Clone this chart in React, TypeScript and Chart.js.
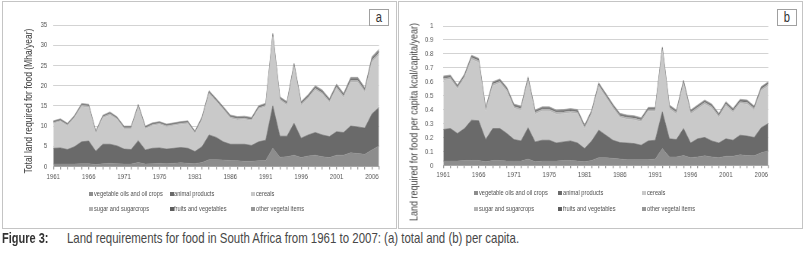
import React, { useEffect, useRef } from "react";
import { Chart, registerables } from "chart.js";

Chart.register(...registerables);

const SANS = '"Liberation Sans", Arial, sans-serif';
// horizontal squeeze used to imitate the condensed typeface of the figure
const SQUEEZE = 0.76;

const YEARS = [
  1961, 1962, 1963, 1964, 1965, 1966, 1967, 1968, 1969, 1970,
  1971, 1972, 1973, 1974, 1975, 1976, 1977, 1978, 1979, 1980,
  1981, 1982, 1983, 1984, 1985, 1986, 1987, 1988, 1989, 1990,
  1991, 1992, 1993, 1994, 1995, 1996, 1997, 1998, 1999, 2000,
  2001, 2002, 2003, 2004, 2005, 2006, 2007,
];
const X_TICK_YEARS = [1961, 1966, 1971, 1976, 1981, 1986, 1991, 1996, 2001, 2006];

const SERIES_NAMES = [
  "vegetable oils and oil crops",
  "animal products",
  "cereals",
  "sugar and sugarcrops",
  "fruits and vegetables",
  "other vegetal items",
];
const SERIES_COLORS = ["#8d8d8d", "#6a6a6a", "#c9c9c9", "#b3b3b3", "#5e5e5e", "#979797"];

// Panel a: total land required (Mha/year)
const totalVegOils = [
  0.6, 0.6, 0.6, 0.6, 0.7, 0.7, 0.5, 0.7, 0.8, 0.7,
  0.6, 0.6, 1.0, 0.6, 0.7, 0.8, 0.7, 0.8, 0.9, 0.8,
  0.7, 1.0, 1.7, 1.7, 1.6, 1.5, 1.4, 1.3, 1.3, 1.4,
  1.5, 4.5, 2.3, 2.4, 2.8, 2.2, 2.6, 2.8, 2.4, 2.2,
  2.8, 2.8, 3.4, 3.2, 3.0, 4.1, 5.1,
];
const totalAnimal = [
  3.9, 4.0, 3.6, 4.3, 5.4, 5.6, 3.3, 4.8, 4.7, 4.4,
  3.7, 3.6, 5.4, 3.5, 3.8, 3.8, 3.6, 3.7, 3.8, 3.7,
  3.0, 3.9, 6.1, 5.5, 4.5, 4.0, 4.1, 4.2, 3.9, 4.7,
  5.0, 10.5, 5.2, 5.1, 7.9, 4.8, 5.2, 5.6, 5.4, 5.2,
  5.8, 5.6, 6.6, 6.6, 6.5, 8.9, 9.5,
];
const totalCereals = [
  6.1, 6.5, 5.8, 7.1, 8.7, 8.3, 4.3, 6.5, 7.2, 6.5,
  5.0, 5.1, 8.2, 5.2, 5.6, 5.8, 5.5, 5.6, 5.7, 6.1,
  4.4, 6.6, 10.1, 8.8, 7.9, 6.4, 6.0, 6.1, 6.1, 8.1,
  8.3, 17.0, 8.8, 7.6, 13.9, 8.1, 9.0, 10.5, 10.0, 8.4,
  10.7, 8.6, 10.8, 11.0, 8.8, 12.8, 13.0,
];
const totalSugar = [
  0.3, 0.3, 0.3, 0.3, 0.35, 0.35, 0.3, 0.3, 0.35, 0.3,
  0.3, 0.3, 0.35, 0.3, 0.3, 0.3, 0.3, 0.3, 0.3, 0.3,
  0.3, 0.3, 0.35, 0.35, 0.35, 0.35, 0.35, 0.35, 0.35, 0.35,
  0.35, 0.4, 0.4, 0.4, 0.4, 0.4, 0.4, 0.45, 0.45, 0.4,
  0.45, 0.45, 0.5, 0.5, 0.5, 0.55, 0.55,
];
const totalFruitsVeg = [
  0.15, 0.15, 0.15, 0.15, 0.15, 0.15, 0.15, 0.15, 0.15, 0.15,
  0.15, 0.15, 0.15, 0.15, 0.15, 0.15, 0.15, 0.15, 0.15, 0.15,
  0.15, 0.2, 0.2, 0.2, 0.2, 0.2, 0.2, 0.2, 0.2, 0.2,
  0.2, 0.2, 0.2, 0.2, 0.2, 0.2, 0.25, 0.25, 0.25, 0.25,
  0.25, 0.25, 0.3, 0.3, 0.3, 0.3, 0.3,
];
const totalOther = [
  0.25, 0.25, 0.25, 0.25, 0.3, 0.3, 0.25, 0.25, 0.3, 0.25,
  0.25, 0.25, 0.3, 0.25, 0.25, 0.25, 0.25, 0.25, 0.25, 0.25,
  0.25, 0.3, 0.3, 0.3, 0.3, 0.3, 0.3, 0.3, 0.3, 0.3,
  0.3, 0.35, 0.35, 0.35, 0.35, 0.35, 0.35, 0.4, 0.4, 0.35,
  0.4, 0.4, 0.45, 0.45, 0.4, 0.5, 0.55,
];

// Panel b: land required per capita
const capVegOils = [
  0.03, 0.03, 0.03, 0.035, 0.035, 0.035, 0.025, 0.035, 0.035, 0.03,
  0.03, 0.03, 0.045, 0.025, 0.03, 0.03, 0.03, 0.035, 0.035, 0.03,
  0.025, 0.035, 0.055, 0.055, 0.05, 0.045, 0.04, 0.04, 0.04, 0.04,
  0.045, 0.12, 0.06, 0.06, 0.07, 0.055, 0.06, 0.068, 0.06, 0.055,
  0.065, 0.065, 0.075, 0.07, 0.068, 0.09, 0.105,
];
const capAnimal = [
  0.227, 0.234, 0.198, 0.229, 0.289, 0.285, 0.16, 0.229, 0.229, 0.198,
  0.155, 0.145, 0.225, 0.143, 0.15, 0.15, 0.13, 0.133, 0.14, 0.13,
  0.095, 0.14, 0.197, 0.161, 0.13, 0.118, 0.12, 0.116, 0.104, 0.135,
  0.135, 0.264, 0.13, 0.125, 0.194, 0.105, 0.13, 0.132, 0.115, 0.105,
  0.125, 0.115, 0.141, 0.14, 0.132, 0.18, 0.195,
];
const capCereals = [
  0.354, 0.354, 0.319, 0.362, 0.436, 0.418, 0.201, 0.306, 0.326, 0.302,
  0.225, 0.22, 0.336, 0.199, 0.21, 0.21, 0.207, 0.202, 0.202, 0.21,
  0.14, 0.192, 0.311, 0.271, 0.23, 0.18, 0.171, 0.17, 0.168, 0.211,
  0.206, 0.436, 0.213, 0.182, 0.318, 0.207, 0.213, 0.239, 0.235, 0.183,
  0.237, 0.199, 0.228, 0.229, 0.196, 0.265, 0.27,
];
const capSugar = [
  0.013, 0.013, 0.013, 0.013, 0.014, 0.014, 0.013, 0.013, 0.013, 0.013,
  0.013, 0.013, 0.014, 0.013, 0.013, 0.013, 0.013, 0.013, 0.013, 0.013,
  0.013, 0.013, 0.013, 0.013, 0.013, 0.013, 0.013, 0.013, 0.013, 0.013,
  0.013, 0.013, 0.013, 0.013, 0.013, 0.013, 0.013, 0.013, 0.013, 0.013,
  0.013, 0.013, 0.013, 0.013, 0.013, 0.013, 0.013,
];
const capFruitsVeg = [
  0.007, 0.007, 0.007, 0.007, 0.007, 0.007, 0.007, 0.007, 0.007, 0.007,
  0.007, 0.007, 0.007, 0.007, 0.007, 0.007, 0.007, 0.007, 0.007, 0.007,
  0.007, 0.007, 0.007, 0.007, 0.007, 0.007, 0.007, 0.007, 0.007, 0.007,
  0.007, 0.007, 0.007, 0.007, 0.007, 0.007, 0.007, 0.007, 0.007, 0.007,
  0.007, 0.007, 0.008, 0.008, 0.008, 0.008, 0.008,
];
const capOther = [
  0.01, 0.01, 0.01, 0.01, 0.009, 0.009, 0.01, 0.01, 0.01, 0.01,
  0.01, 0.01, 0.009, 0.01, 0.01, 0.01, 0.01, 0.01, 0.01, 0.01,
  0.01, 0.01, 0.01, 0.01, 0.01, 0.01, 0.01, 0.01, 0.01, 0.01,
  0.01, 0.01, 0.01, 0.01, 0.01, 0.01, 0.01, 0.01, 0.01, 0.01,
  0.01, 0.01, 0.009, 0.009, 0.009, 0.009, 0.009,
];

const TOTAL_Y_TICKS = ["0", "5", "10", "15", "20", "25", "30", "35"];
const CAP_Y_TICKS = ["0", "0.1", "0.2", "0.3", "0.4", "0.5", "0.6", "0.7", "0.8", "0.9", "1"];

const XAXIS_H = 20;

type PanelCfg = {
  box: { x: number; y: number; w: number; h: number };
  canvas: { x: number; y: number; w: number; h: number };
  plot: { left: number; top: number; right: number; bottom: number };
  series: number[][];
  yMax: number;
  yStep: number;
  yTickLabels: string[];
  yPad: number;
  yTitle: string;
  titleScale: number;
  titleCx: number;
  titleCy: number;
  letter: string;
  letterBox: { x: number; y: number };
  legendSquareX: number[];
  legendTextX: number[];
  legendRowY: number[];
};

function ChartCanvas({ cfg }: { cfg: PanelCfg }) {
  const ref = useRef<HTMLCanvasElement | null>(null);
  const innerW = Math.round(cfg.canvas.w / SQUEEZE);
  const k = cfg.canvas.w / innerW;
  useEffect(() => {
    const canvas = ref.current;
    if (!canvas) return;
    const { plot, canvas: c } = cfg;
    const datasets = cfg.series.map((data, i) => ({
      label: SERIES_NAMES[i],
      data,
      backgroundColor: SERIES_COLORS[i],
      borderColor: SERIES_COLORS[i],
      borderWidth: 0.6,
      pointRadius: 0,
      pointHoverRadius: 0,
      tension: 0,
      fill: i === 0 ? "origin" : "-1",
    }));
    const chart = new Chart(canvas, {
      type: "line",
      data: { labels: YEARS.map(String), datasets: datasets as any },
      options: {
        animation: false,
        responsive: false,
        maintainAspectRatio: false,
        devicePixelRatio: 1,
        events: [],
        layout: {
          padding: {
            left: 0,
            top: plot.top,
            right: (c.w - plot.right) / k,
            bottom: c.h - plot.bottom - XAXIS_H,
          },
        },
        plugins: {
          legend: { display: false },
          tooltip: { enabled: false },
          title: { display: false },
        },
        scales: {
          x: {
            type: "category",
            offset: false,
            grid: {
              display: true,
              drawOnChartArea: false,
              drawTicks: true,
              tickLength: 3,
              color: "#9a9a9a",
              lineWidth: 1.3,
            },
            border: { display: true, color: "#a8a8a8", width: 1 },
            ticks: {
              autoSkip: false,
              maxRotation: 0,
              minRotation: 0,
              padding: 2,
              color: "#555",
              font: { family: SANS, size: 8 },
              callback: (_v: any, i: number) =>
                X_TICK_YEARS.includes(YEARS[i]) ? String(YEARS[i]) : "",
            },
            afterFit: (s: any) => {
              s.height = XAXIS_H;
            },
          },
          y: {
            stacked: true,
            min: 0,
            max: cfg.yMax,
            grid: { color: "#d3d3d3", lineWidth: 1, drawTicks: false },
            border: { display: false },
            ticks: {
              stepSize: cfg.yStep,
              padding: cfg.yPad / k,
              color: "#555",
              font: { family: SANS, size: 8 },
              callback: (v: any) => {
                const idx = Math.round(Number(v) / cfg.yStep);
                return cfg.yTickLabels[idx] ?? "";
              },
            },
            afterFit: (s: any) => {
              s.width = plot.left / k;
            },
          },
        },
      } as any,
    });
    return () => chart.destroy();
  }, [cfg]);
  return (
    <canvas
      ref={ref}
      width={innerW}
      height={cfg.canvas.h}
      style={{
        position: "absolute",
        left: cfg.canvas.x,
        top: cfg.canvas.y,
        width: cfg.canvas.w,
        height: cfg.canvas.h,
      }}
    />
  );
}

function Squeezed({
  x,
  y,
  size,
  color,
  bold,
  scale,
  children,
}: {
  x: number;
  y: number;
  size: number;
  color: string;
  bold?: boolean;
  scale: number;
  children: React.ReactNode;
}) {
  return (
    <div
      style={{
        position: "absolute",
        left: x,
        top: y,
        fontFamily: SANS,
        fontSize: size,
        fontWeight: bold ? "bold" : "normal",
        lineHeight: `${Math.ceil(size * 1.15)}px`,
        color,
        whiteSpace: "nowrap",
        transform: `scaleX(${scale})`,
        transformOrigin: "0 0",
      }}
    >
      {children}
    </div>
  );
}

function Panel({ cfg }: { cfg: PanelCfg }) {
  return (
    <>
      <div
        style={{
          position: "absolute",
          left: cfg.box.x,
          top: cfg.box.y,
          width: cfg.box.w,
          height: cfg.box.h,
          border: "1px solid #c4c4c4",
          boxSizing: "border-box",
        }}
      />
      <ChartCanvas cfg={cfg} />
      <div
        style={{
          position: "absolute",
          left: cfg.titleCx,
          top: cfg.titleCy,
          transform: `translate(-50%, -50%) rotate(-90deg) scaleX(${cfg.titleScale})`,
          whiteSpace: "nowrap",
          fontFamily: SANS,
          fontSize: 11.5,
          color: "#3f3f3f",
          lineHeight: "13px",
        }}
      >
        {cfg.yTitle}
      </div>
      <div
        style={{
          position: "absolute",
          left: cfg.letterBox.x,
          top: cfg.letterBox.y,
          width: 20,
          height: 17,
          border: "1px solid #a0a0a0",
          boxSizing: "border-box",
          background: "#fff",
          fontFamily: SANS,
          fontSize: 14,
          lineHeight: "14px",
          color: "#333",
          textAlign: "center",
        }}
      >
        <span style={{ display: "inline-block", transform: "scaleX(0.8)" }}>{cfg.letter}</span>
      </div>
      {SERIES_NAMES.map((name, i) => {
        const col = i % 3;
        const row = Math.floor(i / 3);
        const cy = cfg.legendRowY[row];
        return (
          <React.Fragment key={name}>
            <div
              style={{
                position: "absolute",
                left: cfg.legendSquareX[col],
                top: cy - 2,
                width: 4,
                height: 4,
                background: SERIES_COLORS[i],
              }}
            />
            <Squeezed x={cfg.legendTextX[col]} y={cy - 5} size={7.5} color="#505050" scale={0.76}>
              {name}
            </Squeezed>
          </React.Fragment>
        );
      })}
    </>
  );
}

const panelA: PanelCfg = {
  box: { x: 2, y: 1, w: 395, h: 228 },
  canvas: { x: 3, y: 2, w: 393, h: 226 },
  plot: { left: 50.3, top: 23, right: 376, bottom: 164.5 },
  series: [totalVegOils, totalAnimal, totalCereals, totalSugar, totalFruitsVeg, totalOther],
  yMax: 35,
  yStep: 5,
  yTickLabels: TOTAL_Y_TICKS,
  yPad: 6,
  yTitle: "Total land required for food (Mha/year)",
  titleScale: 0.74,
  titleCx: 28,
  titleCy: 100.5,
  letter: "a",
  letterBox: { x: 369, y: 9 },
  legendSquareX: [88.5, 169.5, 250.5],
  legendTextX: [94, 174, 256],
  legendRowY: [193.5, 208.5],
};

const panelB: PanelCfg = {
  box: { x: 398, y: 1, w: 405, h: 228 },
  canvas: { x: 399, y: 2, w: 403, h: 226 },
  plot: { left: 44.3, top: 24, right: 369.3, bottom: 163.3 },
  series: [capVegOils, capAnimal, capCereals, capSugar, capFruitsVeg, capOther],
  yMax: 1,
  yStep: 0.1,
  yTickLabels: CAP_Y_TICKS,
  yPad: 10,
  yTitle: "Land required for food per capita kcal/capita/year)",
  titleScale: 0.78,
  titleCx: 414,
  titleCy: 122,
  letter: "b",
  letterBox: { x: 777, y: 9 },
  legendSquareX: [474, 558, 642.3],
  legendTextX: [479, 562.7, 646.7],
  legendRowY: [193.3, 208.5],
};

export default function App() {
  return (
    <div
      style={{
        position: "fixed",
        left: 0,
        top: 0,
        width: 804,
        height: 261,
        background: "#fff",
        overflow: "hidden",
        fontFamily: SANS,
      }}
    >
      <Panel cfg={panelA} />
      <Panel cfg={panelB} />
      <Squeezed x={2} y={230} size={14.5} bold color="#333" scale={0.76}>
        Figure 3:
      </Squeezed>
      <Squeezed x={67} y={230} size={14.5} color="#474747" scale={0.79}>
        Land requirements for food in South Africa from 1961 to 2007: (a) total and (b) per capita.
      </Squeezed>
    </div>
  );
}
